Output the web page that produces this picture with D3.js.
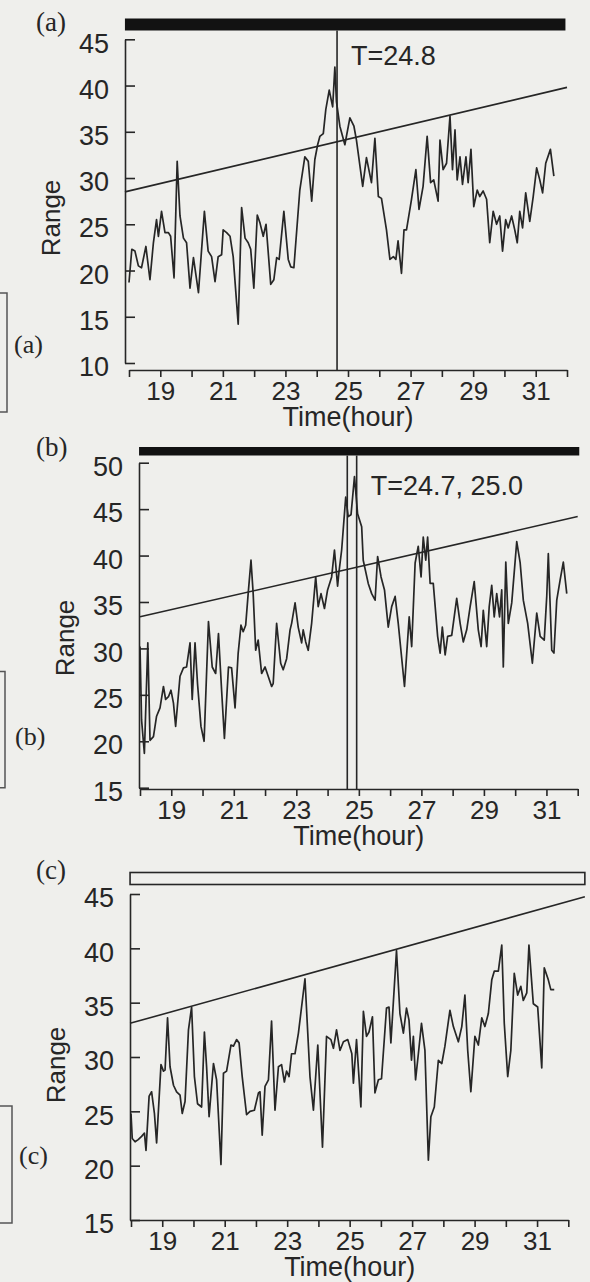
<!DOCTYPE html>
<html>
<head>
<meta charset="utf-8">
<script src="https://cdn.jsdelivr.net/npm/d3@7"></script>
<style>
  html, body { margin: 0; padding: 0; background: #efefec; }
  svg { display: block; }
  text { font-family: "Liberation Sans", Arial, sans-serif; fill: #262626; }
  .serif { font-family: "Liberation Serif", "Times New Roman", serif; }
</style>
</head>
<body>
<svg id="chart" width="590" height="1282"></svg>
<script>
// hour ticks, labelled on odd hours
const hourTicks = d3.range(18, 33)
const xTickLabels = [19, 21, 23, 25, 27, 29, 31]

const yTicksA = [10, 15, 20, 25, 30, 35, 40, 45]
const yTicksB = [15, 20, 25, 30, 35, 40, 45, 50]
const yTicksC = [15, 20, 25, 30, 35, 40, 45]

// (a)
const timeA = [18.00,18.09,18.19,18.30,18.40,18.54,18.67,18.78,18.88,18.94,
  19.04,19.15,19.26,19.33,19.44,19.54,19.63,19.74,19.84,19.95,
  20.06,20.22,20.41,20.53,20.64,20.75,20.85,20.96,21.01,21.12,
  21.23,21.33,21.49,21.60,21.71,21.81,21.89,21.99,22.10,22.19,
  22.29,22.38,22.53,22.63,22.72,22.80,22.95,23.09,23.17,23.27,
  23.46,23.62,23.73,23.84,23.94,24.03,24.10,24.21,24.29,24.40,
  24.51,24.58,24.63,24.74,24.90,25.06,25.19,25.27,25.47,25.59,
  25.75,25.86,25.97,26.07,26.23,26.34,26.45,26.53,26.60,26.71,
  26.79,26.87,27.03,27.17,27.27,27.40,27.53,27.64,27.74,27.88,
  27.94,28.04,28.15,28.26,28.34,28.42,28.49,28.58,28.66,28.77,
  28.84,28.93,29.02,29.13,29.21,29.32,29.43,29.53,29.64,29.75,
  29.85,29.94,30.04,30.12,30.23,30.33,30.41,30.49,30.58,30.68,
  30.81,30.92,31.03,31.13,31.22,31.32,31.47,31.58]
const rangeA = [18.7,22.3,22.1,20.5,20.3,22.6,19.0,23.0,25.5,23.7,
  26.4,24.1,24.1,23.7,19.2,31.8,25.9,23.5,23.0,18.1,
  21.4,17.6,26.4,22.1,21.5,18.8,21.5,21.7,24.4,24.1,
  23.7,21.5,14.2,26.8,23.5,23.0,22.3,18.1,26.0,25.1,
  23.7,25.0,18.5,19.0,21.4,21.2,26.4,21.2,20.4,20.3,
  28.7,32.3,31.8,27.5,32.0,33.6,34.5,34.8,37.4,39.5,
  37.7,42.0,38.3,35.6,33.6,36.5,35.6,34.1,29.1,32.2,
  29.5,34.3,28.0,27.8,24.4,21.2,21.5,21.2,23.2,19.7,
  24.4,24.4,27.7,30.9,26.6,29.1,34.5,29.5,29.8,27.5,
  34.1,30.9,31.6,36.7,30.9,35.2,29.8,32.3,29.3,32.3,
  29.5,33.1,26.9,28.7,28.0,28.6,27.7,23.0,26.4,25.0,
  25.9,22.1,25.5,24.6,25.9,24.4,23.0,26.4,24.6,28.4,
  25.3,28.0,31.1,29.8,28.4,31.6,33.1,30.2]
const trendA = [[17.87, 28.5], [32, 39.8]]
const markersA = [24.65]
const noteA = 'T=24.8'
const barA = [17.87, 31.95]

// (b)
const timeB = [18.00,18.05,18.14,18.25,18.32,18.43,18.53,18.64,18.75,18.82,
  18.91,18.99,19.07,19.14,19.28,19.39,19.49,19.60,19.67,19.76,
  19.84,19.95,20.05,20.19,20.31,20.42,20.51,20.61,20.70,20.83,
  20.93,21.04,21.14,21.23,21.30,21.38,21.46,21.55,21.62,21.70,
  21.78,21.89,22.00,22.10,22.21,22.26,22.37,22.50,22.58,22.69,
  22.80,22.85,22.96,23.06,23.17,23.22,23.30,23.38,23.49,23.62,
  23.70,23.79,23.90,24.00,24.13,24.22,24.32,24.36,24.45,24.58,
  24.66,24.75,24.86,24.96,25.09,25.14,25.30,25.41,25.52,25.60,
  25.71,25.82,25.94,26.05,26.16,26.26,26.46,26.61,26.69,26.80,
  26.90,26.99,27.06,27.14,27.20,27.28,27.38,27.52,27.60,27.67,
  27.76,27.84,27.97,28.13,28.24,28.34,28.45,28.56,28.69,28.82,
  28.91,28.98,29.09,29.17,29.25,29.33,29.41,29.50,29.57,29.62,
  29.70,29.78,29.89,30.05,30.16,30.26,30.40,30.55,30.69,30.80,
  30.93,31.01,31.06,31.17,31.24,31.33,31.44,31.54,31.65]
const rangeB = [30.2,22.3,18.7,30.6,20.1,20.5,22.7,23.6,25.9,24.5,
  24.8,25.5,24.1,21.6,27.0,27.9,28.0,30.6,24.5,30.6,
  26.2,21.6,20.0,32.9,28.0,27.3,31.6,25.5,20.3,28.0,
  27.9,23.6,29.5,32.5,31.8,32.5,35.9,39.5,35.9,29.8,
  30.9,27.3,28.0,27.0,25.9,26.2,32.7,28.4,27.7,28.9,
  32.0,32.7,34.9,32.3,30.6,32.0,30.7,29.8,32.7,37.7,
  34.5,35.9,34.3,36.3,37.7,40.6,36.7,38.1,40.6,46.3,
  44.2,44.4,48.5,44.5,43.1,39.5,37.0,35.9,35.2,39.9,
  37.7,36.3,32.3,34.5,35.6,32.7,25.9,33.4,30.2,39.2,
  41.0,37.7,42.0,39.5,42.0,37.0,37.0,31.3,29.5,32.3,
  29.3,31.3,31.4,35.4,32.7,30.7,32.0,34.5,37.2,32.0,
  30.2,34.1,30.2,34.5,36.8,33.4,35.9,33.4,36.3,28.0,
  39.3,32.7,34.9,41.5,39.2,35.2,32.7,28.4,33.8,31.3,
  30.9,35.6,40.2,29.8,29.5,35.2,37.4,39.3,35.9]
const trendB = [[18, 33.4], [32, 44.2]]
const markersB = [24.63, 24.93]
const noteB = 'T=24.7, 25.0'
const barB = [17.97, 32.05]

// (c)
const timeC = [18.00,18.04,18.13,18.23,18.34,18.43,18.48,18.58,18.66,18.75,
  18.82,18.96,19.04,19.09,19.17,19.25,19.36,19.46,19.57,19.64,
  19.73,19.84,19.94,20.03,20.13,20.26,20.35,20.42,20.50,20.64,
  20.74,20.88,20.96,21.06,21.20,21.28,21.38,21.46,21.56,21.70,
  21.81,21.95,22.08,22.13,22.20,22.29,22.40,22.50,22.61,22.72,
  22.82,22.91,22.98,23.06,23.14,23.25,23.36,23.57,23.73,23.84,
  23.98,24.13,24.26,24.40,24.48,24.58,24.69,24.80,24.94,25.07,
  25.12,25.22,25.36,25.44,25.54,25.62,25.73,25.81,25.92,26.02,
  26.18,26.26,26.32,26.50,26.61,26.72,26.82,26.90,26.98,27.04,
  27.11,27.20,27.30,27.41,27.52,27.60,27.71,27.84,27.95,28.05,
  28.21,28.32,28.48,28.59,28.69,28.78,28.88,29.01,29.12,29.23,
  29.33,29.44,29.55,29.63,29.76,29.87,29.95,30.06,30.16,30.27,
  30.38,30.48,30.56,30.67,30.74,30.88,31.02,31.15,31.23,31.36,
  31.44,31.55]
const rangeC = [24.8,22.5,22.2,22.4,22.7,23.0,21.4,26.4,26.8,24.8,
  22.1,29.3,28.7,28.8,33.6,29.1,27.4,26.8,26.5,24.8,
  25.9,32.5,34.6,28.2,25.7,25.4,32.3,29.1,24.5,29.4,
  27.9,20.1,28.5,28.7,31.1,31.0,31.6,31.3,28.2,24.7,
  25.0,25.1,26.7,26.8,22.8,27.3,27.9,33.3,25.1,29.1,
  29.3,27.7,28.7,28.2,30.3,30.3,32.2,37.2,28.2,25.1,
  31.1,21.7,31.9,31.6,30.8,32.5,30.6,31.4,31.6,30.3,
  27.6,31.6,25.4,34.2,31.9,32.3,33.7,26.7,27.9,28.0,
  34.5,34.6,31.3,39.8,34.0,32.2,34.5,33.4,29.7,31.9,
  27.9,30.3,33.1,30.6,20.5,24.5,25.4,29.7,29.4,31.0,
  34.3,32.8,31.4,32.8,35.7,30.6,26.8,31.9,31.1,33.6,
  32.8,34.0,37.1,37.9,37.9,40.3,33.1,28.2,30.6,37.7,
  35.7,36.5,35.2,35.9,40.3,34.9,34.6,29.0,38.2,37.1,
  36.2,36.2]
const trendC = [[17.97, 33.1], [32.53, 44.75]]
const markersC = []
const noteC = ''
const barC = [17.97, 32.53]

const ink = '#262626'

const panels = [
  { name: '(a)', t: timeA, v: rangeA, yTicks: yTicksA, trend: trendA, markers: markersA, note: noteA, bar: barA, barFilled: true,
    xRange: [129, 567], yAxisX: 125, yRange: [363, 39.3], xAxisY: 370, barY: [18.5, 30.5], noteY: 65,
    rangeY: 218, titleY: 31, box: [293, 412, 7], boxLabel: [14, 353] },
  { name: '(b)', t: timeB, v: rangeB, yTicks: yTicksB, trend: trendB, markers: markersB, note: noteB, bar: barB, barFilled: true,
    xRange: [140, 577.7], yAxisX: 139, yRange: [787.7, 462.7], xAxisY: 789, barY: [447, 455.5], noteY: 495,
    rangeY: 638, titleY: 456, box: [671.6, 787.7, 5], boxLabel: [15, 745] },
  { name: '(c)', t: timeC, v: rangeC, yTicks: yTicksC, trend: trendC, markers: markersC, note: noteC, bar: barC, barFilled: false,
    xRange: [131, 568.3], yAxisX: 130, yRange: [1220, 894], xAxisY: 1220, barY: [872.5, 884.5], noteY: 0,
    rangeY: 1065, titleY: 879, box: [1106, 1223, 12], boxLabel: [19, 1164] }
]

const svg = d3.select('#chart')

panels.forEach(p => {
  const x = d3.scaleLinear().domain([18, 32]).range(p.xRange)
  const y = d3.scaleLinear().domain(d3.extent(p.yTicks)).range(p.yRange)
  const g = svg.append('g')

  // status bar on top
  g.append('rect')
    .attr('x', x(p.bar[0]))
    .attr('y', p.barY[0])
    .attr('width', x(p.bar[1]) - x(p.bar[0]))
    .attr('height', p.barY[1] - p.barY[0])
    .attr('fill', p.barFilled ? '#121212' : 'none')
    .attr('stroke', ink)
    .attr('stroke-width', p.barFilled ? 0 : 1.6)

  // x axis
  const xAxis = g.append('g')
    .attr('transform', `translate(0,${p.xAxisY})`)
    .call(d3.axisBottom(x)
      .tickValues(hourTicks)
      .tickFormat(d => (xTickLabels.includes(d) ? d : ''))
      .tickSizeInner(7)
      .tickSizeOuter(0))
  xAxis.selectAll('text')
    .attr('y', 11.5)
    .attr('dy', '0.71em')
    .style('font-size', '26px')

  // y axis, ticks pointing inward
  const yAxis = g.append('g')
    .attr('transform', `translate(${p.yAxisX},0)`)
    .call(d3.axisLeft(y)
      .tickValues(p.yTicks)
      .tickSizeInner(-10)
      .tickSizeOuter(0)
      .tickPadding(16))
  yAxis.selectAll('text')
    .attr('dy', '0.47em')
    .style('font-size', '27px')

  g.selectAll('.domain, .tick line')
    .attr('stroke', ink)
    .attr('stroke-width', 1.6)
  g.selectAll('.tick text').attr('fill', '#262626').style('font-family', '"Liberation Sans", Arial, sans-serif')

  // axis titles
  g.append('text')
    .attr('x', (p.xRange[0] + p.xRange[1]) / 2)
    .attr('y', p.xAxisY + 56)
    .attr('text-anchor', 'middle')
    .style('font-size', '27px')
    .text('Time(hour)')

  g.append('text')
    .attr('transform', `translate(${p.yAxisX - 65},${p.rangeY}) rotate(-90)`)
    .attr('text-anchor', 'middle')
    .style('font-size', '26px')
    .text('Range')

  // trend line
  g.append('line')
    .attr('x1', x(p.trend[0][0])).attr('y1', y(p.trend[0][1]))
    .attr('x2', x(p.trend[1][0])).attr('y2', y(p.trend[1][1]))
    .attr('stroke', ink)
    .attr('stroke-width', 1.6)

  // event markers
  g.selectAll('.marker')
    .data(p.markers)
    .enter()
    .append('line')
    .attr('x1', d => x(d)).attr('x2', d => x(d))
    .attr('y1', p.barY[1]).attr('y2', p.xAxisY)
    .attr('stroke', ink)
    .attr('stroke-width', 1.6)

  if (p.note) {
    g.append('text')
      .attr('x', x(d3.max(p.markers)) + 14)
      .attr('y', p.noteY)
      .style('font-size', '27px')
      .text(p.note)
  }

  // series
  const line = d3.line()
    .x(i => x(p.t[i]))
    .y(i => y(p.v[i]))
  g.append('path')
    .attr('d', line(d3.range(p.t.length)))
    .attr('fill', 'none')
    .attr('stroke', ink)
    .attr('stroke-width', 1.7)
    .attr('stroke-linejoin', 'round')

  // panel label
  g.append('text')
    .attr('class', 'serif')
    .attr('x', 36)
    .attr('y', p.titleY)
    .style('font-size', '27px')
    .text(p.name)

  // cropped box on the left edge
  g.append('path')
    .attr('d', `M0,${p.box[0]}H${p.box[2]}V${p.box[1]}H0`)
    .attr('fill', 'none')
    .attr('stroke', '#555')
    .attr('stroke-width', 1.5)
  g.append('text')
    .attr('class', 'serif')
    .attr('x', p.boxLabel[0])
    .attr('y', p.boxLabel[1])
    .style('font-size', '26px')
    .attr('fill', '#555')
    .text(p.name)
})
</script>
</body>
</html>
